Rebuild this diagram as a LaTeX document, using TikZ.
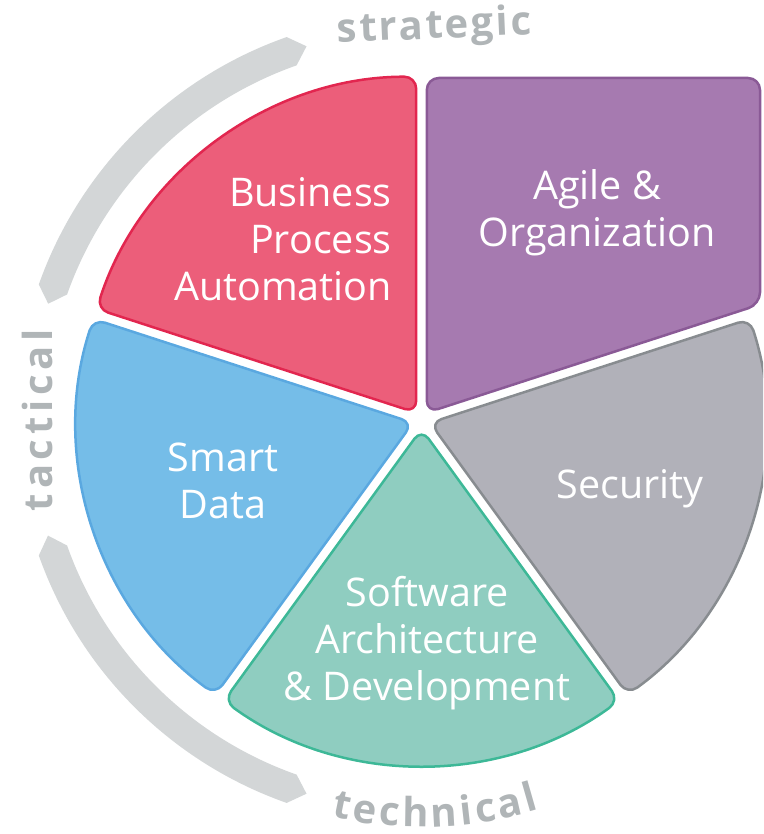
\documentclass[tikz,border=0pt]{standalone}
\usepackage{fontspec}
\setmainfont{Open Sans}
\newfontfamily\lblfont{Open Sans}[LetterSpace=6]
\newfontfamily\lblwidefont{Open Sans}[LetterSpace=12]
\usetikzlibrary{decorations.text}

\definecolor{bpafill}{HTML}{EC5E7A}
\definecolor{bpaline}{HTML}{E2264F}
\definecolor{agilefill}{HTML}{A67AB0}
\definecolor{agileline}{HTML}{8A5A96}
\definecolor{secfill}{HTML}{B1B1B9}
\definecolor{secline}{HTML}{888C90}
\definecolor{softfill}{HTML}{8FCDC0}
\definecolor{softline}{HTML}{3DB897}
\definecolor{datafill}{HTML}{75BDE8}
\definecolor{dataline}{HTML}{5AA8E0}
\definecolor{bandgray}{HTML}{D3D6D7}
\definecolor{lblgray}{HTML}{B0B5B7}

\tikzset{
	seg/.style={line width=2.5pt, rounded corners=12pt, line join=round},
	band/.style={fill=bandgray},
	segtext/.style={text=white, inner sep=0pt, font=\fontsize{39.5}{47}\selectfont},
	lbl/.style={text=lblgray, inner sep=0pt, font=\lblfont\bfseries\fontsize{40}{44}\selectfont}
}

\begin{document}
\begin{tikzpicture}[x=1pt, y=1pt]

	\useasboundingbox (0,0) rectangle (763,834);
	\clip (0,0) rectangle (763,834);

	\begin{scope}[shift={(421.5,414)}]
		% the two bands on the left
		\fill[band] (109.4:406) arc[start angle=109.4, end angle=160.5, radius=406] -- (162.7:391) -- (160.5:376) arc[start angle=160.5, end angle=109.4, radius=376] -- (107.1:391) -- cycle;
		\fill[band] (199.5:406) arc[start angle=199.5, end angle=250.6, radius=406] -- (252.9:391) -- (250.6:376) arc[start angle=250.6, end angle=199.5, radius=376] -- (197.2:391) -- cycle;

		% the five pieces
		\draw[seg, fill=bpafill, draw=bpaline] (126:9) -- ++(90:336) arc[start angle=90, end angle=162, radius=336] -- cycle;
		\draw[seg, fill=agilefill, draw=agileline] (54:9) -- (5.3,342) -- (338.5,342) -- (338.5,115.6) -- cycle;
		\draw[seg, fill=secfill, draw=secline] (342:9) -- ++(18:336) arc[start angle=18, end angle=-54, radius=336] -- cycle;
		\draw[seg, fill=softfill, draw=softline] (270:9) -- ++(306:336) arc[start angle=306, end angle=234, radius=336] -- cycle;
		\draw[seg, fill=datafill, draw=dataline] (198:9) -- ++(234:336) arc[start angle=234, end angle=162, radius=336] -- cycle;

		\path[decorate, decoration={text along path, text align={fit to path}, text color=lblgray,
			text={|\lblfont\bfseries\fontsize{40}{44}\selectfont|technical}}]
			(257.2:407) arc[start angle=257.2, end angle=286.8, radius=407];
	\end{scope}

	\node[segtext, align=right, anchor=east] (bpa) at (392,595) {Business\\Process\\Automation};
	\node[segtext, align=center] (agile) at (597,621) {Agile \&\\Organization};
	\node[segtext, align=center] (data) at (223,353) {Smart\\Data};
	\node[segtext] (sec) at (630,345) {Security};
	\node[segtext, align=center] (soft) at (427,191) {Software\\Architecture\\\& Development};

	\node[lbl, rotate=2.5, anchor=base] (strategic) at (435,795.5) {strategic};
	\node[lbl, font=\lblwidefont\bfseries\fontsize{40}{44}\selectfont, rotate=90, anchor=base] (tactical) at (52,414) {tactical};

\end{tikzpicture}
\end{document}
